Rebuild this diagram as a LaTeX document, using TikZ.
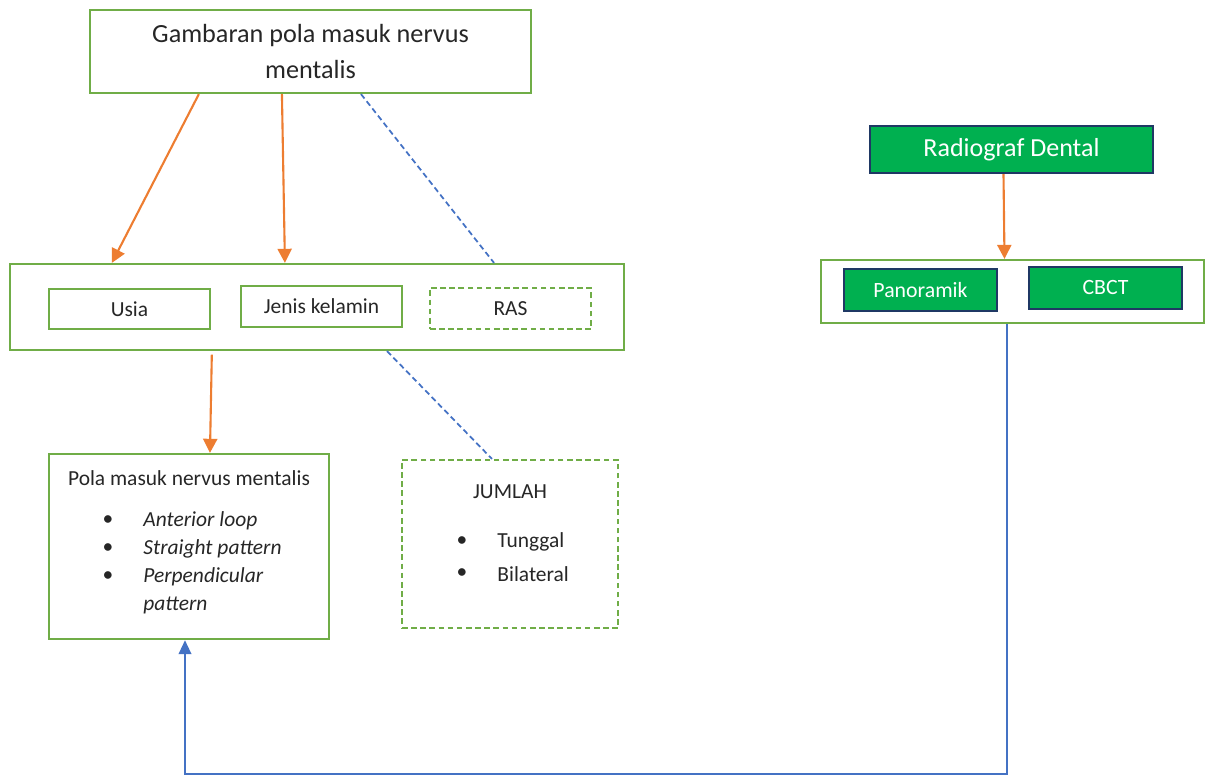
\documentclass[tikz,border=0pt]{standalone}
\usepackage{fontspec}
\setmainfont{Carlito}
\usetikzlibrary{arrows.meta}
\definecolor{boxgreen}{HTML}{70AD47}
\definecolor{fillgreen}{HTML}{00B050}
\definecolor{navy}{HTML}{1F3864}
\definecolor{arrorange}{HTML}{ED7D31}
\definecolor{lineblue}{HTML}{4472C4}
\definecolor{txt}{HTML}{262626}

\begin{document}
\begin{tikzpicture}[x=0.01cm, y=-0.01cm,
	box/.style={draw=boxgreen, line width=0.6pt, inner sep=0pt, text=txt},
	dbox/.style={box, dash pattern=on 1.6pt off 1pt},
	gbox/.style={draw=navy, fill=fillgreen, line width=0.7pt, inner sep=0pt, text=white},
	big/.style={font=\fontsize{7.45}{10.2}\selectfont},
	small/.style={font=\fontsize{6.1}{8}\selectfont, text=txt},
	oarrow/.style={draw=arrorange, line width=0.6pt, -{Triangle[length=4pt,width=4pt]}},
	bdash/.style={draw=lineblue, line width=0.5pt, dash pattern=on 1.6pt off 1pt},
	barrow/.style={draw=lineblue, line width=0.8pt, -{Triangle[length=4pt,width=3.5pt]}}]
	\useasboundingbox (0,0) rectangle (1206,777);

	% left part
	\node[box, big, minimum width=4.41cm, minimum height=0.83cm, align=center] (top) at (310.5,51.5) {Gambaran pola masuk nervus\\mentalis};
	\node[box, minimum width=6.14cm, minimum height=0.86cm] (grp) at (317,307) {};
	\node[box, small, minimum width=1.61cm, minimum height=0.40cm] (usia) at (129.5,309) {Usia};
	\node[box, small, minimum width=1.61cm, minimum height=0.41cm] (jenis) at (321.5,306.5) {Jenis kelamin};
	\node[dbox, small, minimum width=1.61cm, minimum height=0.41cm] (ras) at (510.5,308.5) {RAS};

	\node[box, minimum width=2.80cm, minimum height=1.85cm] (pola) at (189,546.5) {};
	\node[small] (polatitle) at (189,478) {Pola masuk nervus mentalis};
	\foreach \y in {521,549,577} \node[small] at (108,\y) {•};
	\node[small, anchor=west] (anterior) at (131,521) {\itshape Anterior loop};
	\node[small, anchor=west] (straight) at (131,549) {\itshape Straight pattern};
	\node[small, anchor=west, align=left] (perp) at (131,591) {\itshape Perpendicular\\\itshape pattern};

	\node[dbox, minimum width=2.16cm, minimum height=1.68cm] (jumlah) at (510,544) {};
	\node[small] (jumlahtitle) at (510,492) {JUMLAH};
	\foreach \y in {542,574} \node[small] at (462,\y) {•};
	\node[small, anchor=west] (tunggal) at (485,542) {Tunggal};
	\node[small, anchor=west] (bilateral) at (485,574) {Bilateral};

	% right part
	\node[gbox, font=\fontsize{7.4}{8}\selectfont, minimum width=2.83cm, minimum height=0.47cm] (radio) at (1011.5,149.5) {Radiograf Dental};
	\node[box, minimum width=3.83cm, minimum height=0.63cm] (radgrp) at (1012.5,291.5) {};
	\node[gbox, font=\fontsize{6.2}{7}\selectfont, minimum width=1.53cm, minimum height=0.42cm] (pano) at (920.5,290) {Panoramik};
	\node[gbox, font=\fontsize{6.2}{7}\selectfont, minimum width=1.53cm, minimum height=0.42cm] (cbct) at (1105.5,288) {CBCT};

	% connectors
	\draw[oarrow] ([xshift=1.10cm]top.south west) -- ([xshift=1.03cm]grp.north west);
	\draw[oarrow] ([xshift=1.93cm]top.south west) -- ([xshift=2.76cm]grp.north west);
	\draw[bdash] ([xshift=2.72cm]top.south west) -- ([xshift=4.85cm]grp.north west);
	\draw[oarrow, shorten <=1pt] ([xshift=2.03cm]grp.south west) -- ([xshift=1.62cm]pola.north west);
	\draw[bdash] ([xshift=3.78cm]grp.south west) -- ([xshift=0.91cm]jumlah.north west);
	\draw[oarrow] ([xshift=-0.08cm]radio.south) -- ([xshift=-0.08cm]radgrp.north);

	\coordinate (low) at (600,774);
	\draw[barrow] ([xshift=-0.055cm]radgrp.south) |- (low) -| ([xshift=-0.04cm]pola.south);
\end{tikzpicture}
\end{document}
